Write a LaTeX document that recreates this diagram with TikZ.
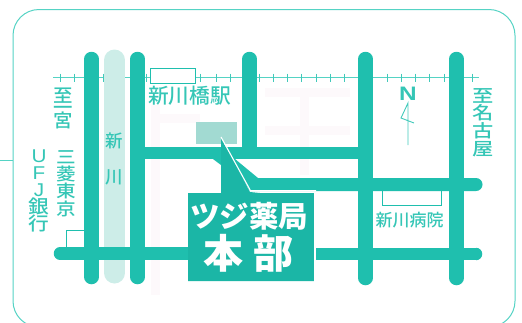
\documentclass[tikz,border=0pt]{standalone}
\usepackage{fontspec}
\setmainfont{Noto Sans CJK JP Medium}
\newfontfamily\jpb{Noto Sans CJK JP Black}
\newfontfamily\lat{Liberation Sans}
\newcommand\tightlines{\lineskiplimit=-100pt\relax}
\definecolor{road}{HTML}{1FBFAE}
\definecolor{boxc}{HTML}{1BB6A6}
\definecolor{label}{HTML}{35C6B6}
\definecolor{frame}{HTML}{55D3C4}
\definecolor{river}{HTML}{CDEDE8}
\definecolor{bldg}{HTML}{A2DAD2}
\definecolor{faint}{HTML}{FDF9FB}
\tikzset{
  roadv/.style={line width=14.5pt,road,line cap=round},
  roadh/.style={line width=12.5pt,road,line cap=round},
  thin line/.style={frame,line width=1pt},
  tick/.style={road!85!white,line width=1pt},
  outline/.style={draw=road,line width=0.9pt,fill=white},
  tate/.style={inner sep=0pt,align=center,text=label,font={\fontsize{#1}{#1}\selectfont\tightlines}},
  tatefit/.style 2 args={inner sep=0pt,align=center,text=label,font={\fontsize{#1}{#2}\selectfont\tightlines}},
  yoko/.style={inner sep=0pt,text=label,font=\fontsize{#1}{#1}\selectfont},
  faintline/.style={faint,line width=9pt}
}
\begin{document}
\begin{tikzpicture}[x=1pt,y=-1pt]
\useasboundingbox (0,0) rectangle (522,322);
% faint show-through
\draw[faintline] (155,105) -- (155,295);
\draw[faintline] (155,118) -- (200,118);
\draw[faintline] (265,92) -- (350,92);
\draw[faintline] (265,130) -- (350,130);
\draw[faintline] (304,92) -- (304,175);
% frame
\draw[thin line,rounded corners=26pt] (13,9.5) rectangle (515,327);
\draw[thin line] (0,160.5) -- (13,160.5);
% railway
\draw[thin line] (53,77.5) -- (479,77.5);
\foreach \x in {60,74,103,117,146,200,216,230,259,273,287,301,316,330,344,387,401,415,429,444,472}
  \draw[tick] (\x,73.5) -- (\x,81.5);
\node[outline,minimum width=45pt,minimum height=15pt,inner sep=0pt] (station) at (172.5,75.5) {};
% river
\draw[line width=21pt,river,line cap=round] (114.5,60) -- (114.5,273);
% small buildings behind roads
\draw[outline] (84,230) -- (66,230) -- (66,250);
\draw[outline] (382,185) -- (382,205) -- (441,205) -- (441,185);
% roads
\draw[roadv] (91.5,59) -- (91.5,277);
\draw[roadv] (137.5,59) -- (137.5,277);
\draw[roadv] (249.5,59) -- (249.5,150);
\draw[roadv] (365.5,59) -- (365.5,278);
\draw[roadv] (456.5,59) -- (456.5,278);
\draw[line width=12.5pt,road] (137.5,153) -- (365.5,153);
\fill[road] (213,159) -- (221,165) -- (221,159) -- cycle;
\fill[road] (235,159) -- (258,178) -- (476,178) arc (-90:90:6.5) -- (250,191) -- (225,150) -- cycle;
\draw[roadh] (60,253.5) -- (190,253.5);
\draw[roadh,line cap=butt] (316,254) -- (476,254);
\fill[road] (476,247.75) arc (-90:90:6.25) -- cycle;
% destination building
\fill[bldg] (196,122) rectangle (237,144);
% callout
\fill[boxc] (221,138) -- (250,192) -- (260,193) -- (314,193) -- (314,281) -- (188,281) -- (188,193) -- (221,193) -- cycle;
\draw[white,line width=1.1pt] (221,137) -- (250.5,190.7) -- (316,190.7);
\draw[white,line width=1.5pt] (315.2,192) -- (315.2,282);
% callout text
\node[inner sep=0pt,text=white,font=\jpb\fontsize{29.5}{30}\selectfont] (name) at (249,216) {ツジ薬局};
\node[inner sep=0pt,text=white,font=\jpb\fontsize{40}{40}\selectfont] (hon) at (223.5,253.5) {本};
\node[inner sep=0pt,text=white,font=\jpb\fontsize{40}{40}\selectfont] (bu) at (273.5,253.5) {部};
% labels
\node[yoko=20.7] (stn) at (189.5,96) {新川橋駅};
\node[yoko=17] (hosp) at (409.5,220) {新川病院};
\node[tatefit={18.5}{12.5},xscale=1.05] (miya) at (63,108) {至\\一\\宮};
\node[tate=17.2,xscale=1.14] (mit) at (66,183.5) {三\\菱\\東\\京};
\node[tatefit={18.5}{17.2},xscale=1.12] (ufj) at (39,191) {{\lat U}\\{\lat F}\\{\lat J}\\銀\\行};
\node[tate=17.5] (shin) at (114.5,141) {新};
\node[tate=17.5] (kawa) at (114.5,177) {川};
\node[tate=17.7,xscale=1.2] (nag) at (483,122.5) {至\\名\\古\\屋};
\node[inner sep=0pt,text=label,font=\lat\bfseries\fontsize{19.5}{19.5}\selectfont,xscale=1.25] (north) at (408,94) {N};
% north arrow
\coordinate (ntop) at (408,103);
\coordinate (nbot) at (408,145);
\draw[road!85!white,line width=0.9pt,line join=miter] (nbot) -- (ntop) -- (401,118) -- (414,123);
\end{tikzpicture}
\end{document}
